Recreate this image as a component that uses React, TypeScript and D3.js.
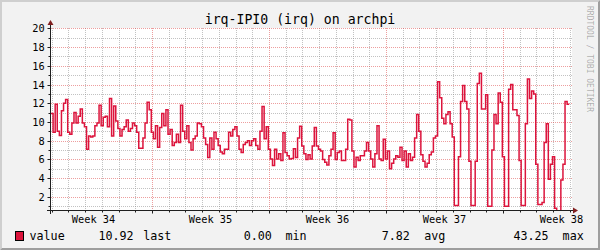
import React from "react";
import * as d3 from "d3";

// ---------- data ----------
const TITLE = "irq-IPI0 (irq) on archpi";
const WATERMARK = "RRDTOOL / TOBI OETIKER";
const SERIES_NAME = "value";
const START_UTC = Date.UTC(2024, 7, 19, 23); // first sample
const END_UTC = Date.UTC(2024, 8, 20, 3); // right edge of graph
const STEP_HOURS = 3;
const Y_DOMAIN = [0.5, 20];
const Y_LABELS = [2, 4, 6, 8, 10, 12, 14, 16, 18, 20];
const Y_MINOR = [1, 3, 5, 7, 9, 11, 13, 15, 17, 19];
const LEGEND_NUMBERS = ["10.92", "0.00", "7.82", "43.25"];
const LEGEND_WORDS = ["last", "min", "avg", "max"];

const VALUES = [
  10.9, 8.9, 11.9, 9.0, 8.55, 11.2, 12.0, 12.4, 8.9, 8.7,
  9.9, 11.0, 9.9, 10.6, 11.4, 9.9, 9.5, 7.1, 8.5, 8.4,
  8.5, 9.6, 9.9, 11.8, 9.6, 10.5, 10.6, 9.5, 12.5, 8.5,
  11.7, 10.1, 9.3, 8.5, 9.2, 9.5, 10.2, 9.0, 9.3, 9.9,
  9.6, 8.9, 7.2, 7.2, 8.3, 9.9, 12.1, 11.3, 8.9, 8.2,
  9.6, 7.3, 9.4, 10.9, 9.6, 11.3, 8.7, 9.2, 7.5, 7.8,
  8.7, 7.8, 11.8, 9.0, 8.2, 9.6, 7.8, 7.0, 8.2, 8.5,
  9.9, 9.8, 9.5, 8.3, 7.6, 6.2, 8.3, 7.1, 8.9, 8.2,
  7.5, 6.8, 6.6, 7.1, 7.1, 8.9, 8.5, 9.2, 9.5, 8.5,
  7.1, 6.75, 7.6, 7.8, 8.0, 7.5, 8.0, 8.2, 7.5, 7.1,
  9.0, 11.65, 8.2, 9.5, 7.1, 6.05, 5.35, 7.1, 6.05, 6.6,
  5.9, 8.85, 6.75, 6.4, 6.05, 6.1, 7.15, 6.2, 8.3, 9.55,
  7.45, 6.6, 6.0, 6.5, 6.05, 7.45, 9.4, 7.45, 7.1, 6.9,
  6.0, 5.7, 5.4, 6.4, 7.1, 8.85, 6.0, 6.75, 6.9, 5.9,
  5.9, 7.1, 10.3, 10.2, 6.9, 5.2, 6.25, 5.9, 6.4, 6.4,
  6.9, 7.8, 6.9, 6.05, 5.2, 6.6, 9.6, 6.05, 5.9, 8.15,
  6.05, 6.9, 5.0, 5.6, 6.05, 6.4, 6.25, 7.3, 5.9, 6.9,
  5.2, 6.6, 5.9, 6.25, 8.3, 10.8, 9.0, 6.5, 5.8, 5.2,
  5.6, 6.5, 6.8, 8.3, 8.5, 14.3, 12.6, 10.4, 9.8, 10.8,
  11.1, 9.8, 8.4, 1.1, 1.1, 6.3, 12.2, 13.9, 12.2, 11.4,
  5.8, 1.1, 1.1, 5.8, 14.1, 15.2, 11.4, 11.4, 12.9, 1.0,
  1.0, 7.0, 10.8, 9.8, 13.1, 12.1, 6.3, 1.0, 1.0, 13.5,
  14.0, 11.3, 11.3, 10.7, 5.9, 1.1, 1.1, 9.8, 14.6, 12.5,
  13.3, 13.0, 5.5, 1.2, 1.2, 1.4, 7.8, 9.8, 3.9, 5.5,
  6.3, 0.8, 0, 0, 3.8, 5.5, 12.2, 11.9,
];

// ---------- layout ----------
const W = 600;
const H = 250;
const PLOT = { left: 51, right: 572, top: 28.3, bottom: 211 };
const FONT = "'DejaVu Sans Mono', monospace";
const LINE_COLOR = "#dc143c";
const LEGEND_NUM_X = [133.6, 271.8, 409.8, 548.6];
const LEGEND_WORD_X = [143.2, 285.4, 424.2, 562.6];

const crisp = (v: number) => Math.round(v) + 0.5;

export default function App() {
  const start = new Date(START_UTC);
  const end = new Date(END_UTC);
  const stepMs = STEP_HOURS * 3600 * 1000;

  const x = d3.scaleUtc().domain([start, end]).range([PLOT.left, PLOT.right]);
  const y = d3.scaleLinear().domain(Y_DOMAIN).range([PLOT.bottom, PLOT.top]);

  const pts: [number, number][] = VALUES.map((v, i) => [START_UTC + i * stepMs, v]);
  pts.push([START_UTC + VALUES.length * stepMs, VALUES[VALUES.length - 1]]);
  const line = d3
    .line<[number, number]>()
    .x((d) => x(new Date(d[0])))
    .y((d) => y(d[1]))
    .curve(d3.curveStepAfter);

  const days = d3.utcDay.range(start, end);
  const weeks = d3.utcMonday.range(d3.utcMonday.floor(start), end);
  const minorDays = days.filter((d) => d.getUTCDay() !== 1);
  const majorWeeks = weeks.filter((d) => d >= start);
  const weekLabelFmt = d3.utcFormat("Week %V");

  const axisX = PLOT.left - 0.5;
  const axisY = 210.5;

  return (
    <svg
      width={W}
      height={H}
      viewBox={`0 0 ${W} ${H}`}
      style={{ position: "absolute", left: 0, top: 0, display: "block" }}
      fontFamily={FONT}
    >
      <rect x={0} y={0} width={W} height={H} fill="#f2f2f2" />
      {/* 3D frame */}
      <polygon points={`0,0 ${W},0 ${W - 2},2 2,2 2,${H - 2} 0,${H}`} fill="#cfcfcf" />
      <polygon points={`${W},0 ${W},${H} 0,${H} 2,${H - 2} ${W - 2},${H - 2} ${W - 2},2`} fill="#9e9e9e" />

      {/* canvas */}
      <rect
        x={PLOT.left}
        y={Math.round(PLOT.top)}
        width={PLOT.right - PLOT.left}
        height={PLOT.bottom - Math.round(PLOT.top)}
        fill="#ffffff"
      />

      {/* minor grid */}
      <g stroke="rgba(143,143,143,0.55)" strokeWidth={1} strokeDasharray="1,1" fill="none">
        {Y_MINOR.map((v) => (
          <line key={"ym" + v} x1={PLOT.left} x2={PLOT.right} y1={crisp(y(v))} y2={crisp(y(v))} />
        ))}
        {minorDays.map((d) => (
          <line key={"xm" + +d} x1={crisp(x(d))} x2={crisp(x(d))} y1={Math.round(PLOT.top)} y2={PLOT.bottom} />
        ))}
      </g>
      {/* major grid */}
      <g stroke="rgba(222,79,79,0.55)" strokeWidth={1} strokeDasharray="1,1" fill="none">
        {Y_LABELS.map((v) => (
          <line key={"yM" + v} x1={PLOT.left} x2={PLOT.right} y1={crisp(y(v))} y2={crisp(y(v))} />
        ))}
        {majorWeeks.map((d) => (
          <line key={"xM" + +d} x1={crisp(x(d))} x2={crisp(x(d))} y1={Math.round(PLOT.top)} y2={PLOT.bottom} />
        ))}
      </g>

      {/* data */}
      <defs>
        <clipPath id="plotclip">
          <rect x={PLOT.left} y={PLOT.top - 2} width={PLOT.right - PLOT.left} height={PLOT.bottom - PLOT.top + 1} />
        </clipPath>
      </defs>
      <path
        d={line(pts) || ""}
        fill="none"
        stroke={LINE_COLOR}
        strokeWidth={1.5}
        strokeLinejoin="miter"
        clipPath="url(#plotclip)"
      />

      {/* axes */}
      <g stroke="#1f1f1f" strokeWidth={1} fill="none">
        <line x1={axisX} x2={axisX} y1={214} y2={24} />
        <line x1={47} x2={574} y1={axisY} y2={axisY} />
        {Y_LABELS.map((v) => (
          <line key={"yt" + v} x1={axisX - 3} x2={axisX} y1={crisp(y(v))} y2={crisp(y(v))} />
        ))}
        {Y_MINOR.map((v) => (
          <line key={"ytm" + v} x1={axisX - 2} x2={axisX} y1={crisp(y(v))} y2={crisp(y(v))} />
        ))}
        {majorWeeks.map((d) => (
          <line key={"xt" + +d} x1={crisp(x(d))} x2={crisp(x(d))} y1={axisY} y2={axisY + 3} />
        ))}
        {minorDays.map((d) => (
          <line key={"xtm" + +d} x1={crisp(x(d))} x2={crisp(x(d))} y1={axisY} y2={axisY + 2} />
        ))}
      </g>
      <polygon
        points={`${axisX - 3},25 ${axisX + 3},25 ${axisX},20`}
        fill="#801f1f"
      />
      <polygon
        points={`573,${axisY - 3} 573,${axisY + 3} 578,${axisY}`}
        fill="#801f1f"
      />

      {/* title */}
      <text x={W / 2} y={24} fontSize={13.2} textAnchor="middle" fill="#000">
        {TITLE}
      </text>

      {/* y labels */}
      {Y_LABELS.map((v) => (
        <text key={"yl" + v} x={44.6} y={crisp(y(v)) + 3.4} fontSize={10.3} textAnchor="end" fill="#000">
          {v}
        </text>
      ))}

      {/* week labels */}
      {weeks.map((d) => {
        const mid = d3.utcHour.offset(d, 84);
        return (
          <text key={"wl" + +d} x={x(mid)} y={223.3} fontSize={10.3} textAnchor="middle" fill="#000">
            {weekLabelFmt(d)}
          </text>
        );
      })}

      {/* legend */}
      <rect x={15.5} y={231.5} width={8} height={9} fill={LINE_COLOR} stroke="#000" strokeWidth={1} />
      <text x={29.5} y={240} fontSize={11.7} fill="#000">
        {SERIES_NAME}
      </text>
      {LEGEND_NUMBERS.map((s, i) => (
        <text key={"ln" + i} x={LEGEND_NUM_X[i]} y={240} fontSize={11.7} textAnchor="end" fill="#000">
          {s}
        </text>
      ))}
      {LEGEND_WORDS.map((s, i) => (
        <text key={"lw" + i} x={LEGEND_WORD_X[i]} y={240} fontSize={11.7} fill="#000">
          {s}
        </text>
      ))}

      {/* watermark */}
      <text
        transform={`translate(587.4, 59) rotate(90)`}
        fontSize={8}
        textAnchor="middle"
        fill="#000"
        fillOpacity={0.3}
      >
        {WATERMARK}
      </text>
    </svg>
  );
}
